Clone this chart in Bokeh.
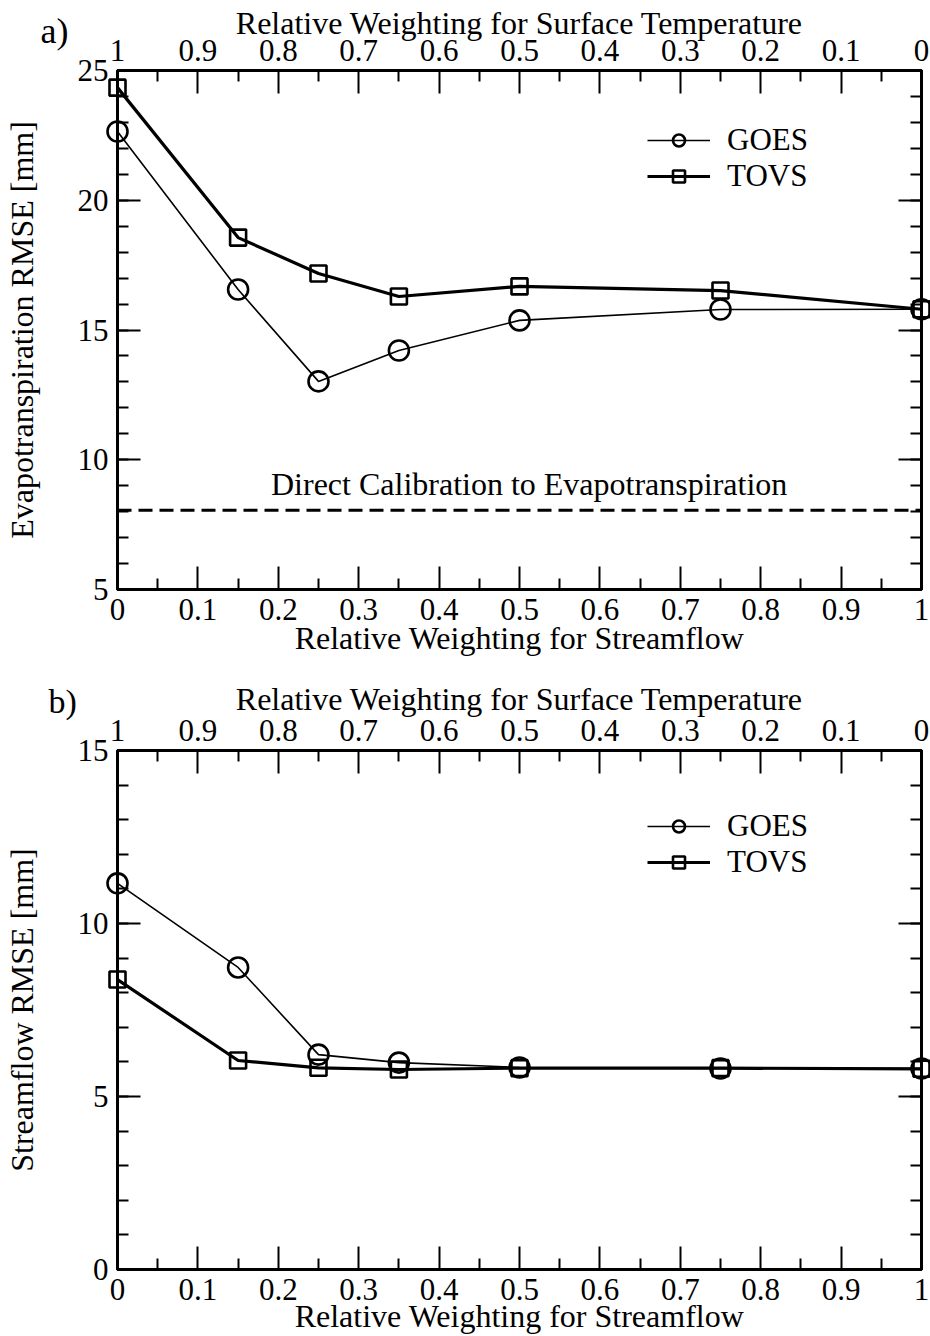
import math
from bokeh.plotting import figure
from bokeh.models import (Range1d, LinearAxis, FixedTicker, Span, Label,
                          Legend, LegendItem)
from bokeh.core.properties import value
from bokeh.layouts import column
from bokeh.embed import file_html
from bokeh.resources import INLINE

FONT = "Liberation Serif"

# ---------------- data ----------------
weights = [0.0, 0.15, 0.25, 0.35, 0.5, 0.75, 1.0]          # relative weighting for streamflow
et_goes = [22.65, 16.56, 13.02, 14.21, 15.37, 15.79, 15.80]
et_tovs = [24.34, 18.56, 17.18, 16.29, 16.68, 16.52, 15.80]
et_direct = 8.05
sf_goes = [11.16, 8.73, 6.21, 5.98, 5.84, 5.81, 5.81]
sf_tovs = [8.38, 6.04, 5.83, 5.78, 5.82, 5.82, 5.80]

x_ticks = [0.0, 0.1, 0.2, 0.3, 0.4, 0.5, 0.6, 0.7, 0.8, 0.9, 1.0]
x_minor_ticks = [0.05, 0.15, 0.25, 0.35, 0.45, 0.55, 0.65, 0.75, 0.85, 0.95]
x_bottom_labels = ["0", "0.1", "0.2", "0.3", "0.4", "0.5", "0.6", "0.7", "0.8", "0.9", "1"]
x_top_labels = ["1", "0.9", "0.8", "0.7", "0.6", "0.5", "0.4", "0.3", "0.2", "0.1", "0"]
et_ticks = [5, 10, 15, 20, 25]
et_minor_ticks = list(range(5, 26))
sf_ticks = [0, 5, 10, 15]
sf_minor_ticks = list(range(0, 16))

bottom_title = "Relative Weighting for Streamflow"
top_title = "Relative Weighting for Surface Temperature"


def style_axis(ax, ticker):
    ax.ticker = ticker
    ax.axis_line_width = 3
    ax.axis_line_color = "black"
    ax.major_tick_in = 23
    ax.major_tick_out = 0
    ax.minor_tick_in = 11
    ax.minor_tick_out = 0
    ax.major_tick_line_width = 2
    ax.minor_tick_line_width = 2
    ax.major_tick_line_color = "black"
    ax.minor_tick_line_color = "black"
    ax.major_label_text_font = FONT
    ax.major_label_text_font_size = "31px"
    ax.major_label_text_color = "black"


def tick_only_axis(p, positions, length):
    # an unlabelled axis on the right: only inward ticks at the given positions
    ax = LinearAxis(ticker=FixedTicker(ticks=[], minor_ticks=positions))
    ax.axis_line_width = 3
    ax.axis_line_color = "black"
    ax.major_tick_in = 0
    ax.major_tick_out = 0
    ax.minor_tick_in = length
    ax.minor_tick_out = 0
    ax.minor_tick_line_width = 2
    ax.minor_tick_line_color = "black"
    ax.major_label_standoff = 0
    p.add_layout(ax, "right")


def outside_text(p, x, y, text, dx, dy, size="32px", align="center", angle=0.0):
    # text placed relative to a frame anchor with pixel offsets, drawn above the frame clip
    p.text(x=[x], y=[y], text=[text], x_offset=dx, y_offset=dy, angle=angle,
           text_font=value(FONT), text_font_size=size, text_color="black",
           text_align=align, text_baseline="middle", level="overlay")


def make_panel(y_lo, y_hi, y_ticks, y_minor, ylabel, goes, tovs, height,
               bottom_border, tag, tag_size, tag_dx, tag_dy, top_dy, bottom_dy, legend_y):
    p = figure(width=930, height=height,
               x_range=Range1d(0, 1), y_range=Range1d(y_lo, y_hi),
               output_backend="svg", toolbar_location=None,
               min_border_left=117, min_border_right=9,
               min_border_top=70, min_border_bottom=bottom_border,
               background_fill_color="white", border_fill_color="white")
    p.grid.visible = False
    p.outline_line_color = "black"
    p.outline_line_width = 3

    bx = p.xaxis[0]
    style_axis(bx, FixedTicker(ticks=x_ticks, minor_ticks=x_minor_ticks))
    bx.major_label_overrides = dict(zip(x_ticks, x_bottom_labels))
    bx.major_label_standoff = 9

    ly = p.yaxis[0]
    style_axis(ly, FixedTicker(ticks=y_ticks, minor_ticks=y_minor))
    ly.major_label_standoff = 9

    tx = LinearAxis()
    style_axis(tx, FixedTicker(ticks=x_ticks, minor_ticks=x_minor_ticks))
    tx.major_label_overrides = dict(zip(x_ticks, x_top_labels))
    tx.major_label_standoff = 10
    p.add_layout(tx, "above")

    tick_only_axis(p, y_minor, 11)
    tick_only_axis(p, y_ticks, 23)

    gl = p.line(weights, goes, line_color="black", line_width=1.6, level="overlay")
    tl = p.line(weights, tovs, line_color="black", line_width=3.2, level="overlay")
    gs = p.scatter(weights, goes, marker="circle", size=20, line_color="black",
                   line_width=2.6, fill_alpha=0, level="overlay")
    ts = p.scatter(weights, tovs, marker="square", size=16, line_color="black",
                   line_width=2.6, fill_alpha=0, level="overlay")

    legend = Legend(items=[LegendItem(label="GOES", renderers=[gl, gs]),
                           LegendItem(label="TOVS", renderers=[tl, ts])],
                    location=(530, legend_y), orientation="vertical",
                    padding=0, margin=0, spacing=-12,
                    glyph_width=63, glyph_height=30, label_standoff=17,
                    label_text_font=FONT, label_text_font_size="31px",
                    label_text_color="black",
                    background_fill_alpha=0, border_line_alpha=0)
    p.add_layout(legend)

    x_mid = (x_ticks[0] + x_ticks[-1]) / 2
    y_mid = (y_lo + y_hi) / 2
    outside_text(p, x_ticks[0], y_hi, tag, tag_dx, tag_dy, size=tag_size, align="left")
    outside_text(p, x_mid, y_hi, top_title, 0, top_dy)
    outside_text(p, x_mid, y_lo, bottom_title, 0, bottom_dy)
    outside_text(p, x_ticks[0], y_mid, ylabel, -96, 0, angle=math.pi / 2)
    return p


pa = make_panel(5, 25, et_ticks, et_minor_ticks, "Evapotranspiration RMSE [mm]",
                et_goes, et_tovs, height=680, bottom_border=91,
                tag="a)", tag_size="36px", tag_dx=-77, tag_dy=-40,
                top_dy=-48, bottom_dy=48, legend_y=395)

pa.add_layout(Span(location=et_direct, dimension="width", line_color="black",
                   line_width=3, line_dash="14 7"))
pa.add_layout(Label(x=0.512, y=et_direct, y_offset=26,
                    text="Direct Calibration to Evapotranspiration",
                    text_font=FONT, text_font_size="32px", text_color="black",
                    text_align="center", text_baseline="middle"))

pb = make_panel(0, 15, sf_ticks, sf_minor_ticks, "Streamflow RMSE [mm]",
                sf_goes, sf_tovs, height=656, bottom_border=67,
                tag="b)", tag_size="34px", tag_dx=-69, tag_dy=-49,
                top_dy=-52, bottom_dy=46, legend_y=389)

layout = column(pa, pb, spacing=0)
open("out.html", "w").write(file_html(layout, INLINE))
